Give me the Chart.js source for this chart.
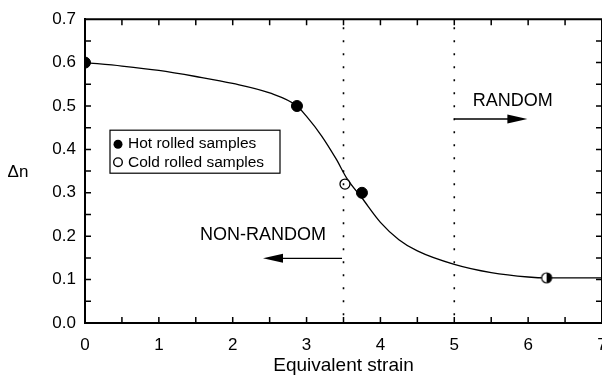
<!DOCTYPE html>
<html>
<head>
<meta charset="utf-8">
<script src="https://cdn.jsdelivr.net/npm/chart.js@4/dist/chart.umd.min.js"></script>
<style>
  html, body { margin: 0; padding: 0; background: #fff; overflow: hidden; }
  #wrap { width: 620px; height: 377px; }
</style>
</head>
<body>
<div id="wrap"><canvas id="strainChart" width="620" height="377"></canvas></div>
<script>
// --- data ---
const hotX = [0, 2.87, 3.75];
const hotY = [0.600, 0.500, 0.300];
const coldX = [3.52];
const coldY = [0.320];
const bothX = [6.25];          // half filled marker (hot + cold)
const bothY = [0.104];

// fitted curve through the samples
const curveX = [0, 0.5, 1.0, 1.5, 2.0, 2.5, 2.87, 3.0, 3.2, 3.4, 3.55, 3.75, 4.0, 4.25, 4.5, 5.0, 5.5, 6.0, 6.25, 6.5, 7.0];
const curveY = [0.600, 0.592, 0.582, 0.568, 0.552, 0.530, 0.500, 0.476, 0.432, 0.378, 0.332, 0.288, 0.232, 0.192, 0.166, 0.135, 0.116, 0.106, 0.104, 0.104, 0.104];

const xTicks = [0, 1, 2, 3, 4, 5, 6, 7];
const yTicks = [0.0, 0.1, 0.2, 0.3, 0.4, 0.5, 0.6, 0.7];
const boundaryX = [3.5, 5.0];   // dotted lines

const FONT = '"Liberation Sans", Arial, Helvetica, sans-serif';

function pts(xs, ys) {
    return xs.map((x, i) => ({ x: x, y: ys[i] }));
}

// half white / half black circle
function halfMarker(r) {
    const c = document.createElement('canvas');
    c.width = c.height = 2 * r + 4;
    const g = c.getContext('2d');
    const m = r + 2;
    g.beginPath(); g.arc(m, m, r, 0, 2 * Math.PI); g.fillStyle = '#fff'; g.fill();
    g.beginPath(); g.arc(m, m, r, -Math.PI / 2, Math.PI / 2); g.closePath(); g.fillStyle = '#000'; g.fill();
    g.beginPath(); g.arc(m, m, r, 0, 2 * Math.PI); g.lineWidth = 1.2; g.strokeStyle = '#000'; g.stroke();
    return c;
}

// --- frame, minor ticks, annotations, legend ---
const decorPlugin = {
    id: 'decor',
    afterDraw(chart) {
        const c = chart.ctx;
        const a = chart.chartArea;
        const xs = chart.scales.x, ys = chart.scales.y;
        c.save();
        c.strokeStyle = '#000';
        c.fillStyle = '#000';

        // top + right frame
        c.lineWidth = 2;
        c.beginPath();
        c.moveTo(a.left, a.top); c.lineTo(a.right, a.top); c.lineTo(a.right, a.bottom);
        c.stroke();

        // inward ticks
        c.lineWidth = 1.5;
        c.beginPath();
        for (let v = 0.5; v < 7; v += 0.5) {
            const px = xs.getPixelForValue(v);
            c.moveTo(px, a.bottom); c.lineTo(px, a.bottom - 6);
            c.moveTo(px, a.top); c.lineTo(px, a.top + 6);
        }
        for (let k = 1; k < 14; k++) {
            const py = ys.getPixelForValue(k * 0.05);
            c.moveTo(a.left, py); c.lineTo(a.left + 6, py);
            c.moveTo(a.right, py); c.lineTo(a.right - 6, py);
        }
        c.stroke();

        // dotted boundaries
        c.lineWidth = 1.6;
        c.setLineDash([2, 11]);
        c.beginPath();
        boundaryX.forEach(v => {
            const px = xs.getPixelForValue(v);
            c.moveTo(px, a.top + 8); c.lineTo(px, a.bottom);
        });
        c.stroke();
        c.setLineDash([]);

        // arrows
        function arrow(x0, x1, y) {
            const p0 = xs.getPixelForValue(x0), p1 = xs.getPixelForValue(x1), py = ys.getPixelForValue(y);
            const dir = Math.sign(p1 - p0);
            c.lineWidth = 1.3;
            c.beginPath(); c.moveTo(p0, py); c.lineTo(p1 - dir * 12, py); c.stroke();
            c.beginPath();
            c.moveTo(p1, py);
            c.lineTo(p1 - dir * 20, py - 4.5);
            c.lineTo(p1 - dir * 20, py + 4.5);
            c.closePath(); c.fill();
        }
        arrow(5.0, 5.99, 0.47);
        arrow(3.48, 2.41, 0.149);

        c.font = '18px ' + FONT;
        c.textAlign = 'center';
        c.textBaseline = 'middle';
        c.fillText('RANDOM', xs.getPixelForValue(5.79), ys.getPixelForValue(0.512));
        c.fillText('NON-RANDOM', xs.getPixelForValue(2.41), ys.getPixelForValue(0.203));

        // y title (horizontal)
        c.font = '17px ' + FONT;
        c.fillText('\u0394n', 18, 172);

        // legend box
        const lx = a.left + 25, ly = a.top + 111, lw = 170, lh = 43;
        c.fillStyle = '#fff';
        c.fillRect(lx, ly, lw, lh);
        c.lineWidth = 1.2;
        c.strokeRect(lx, ly, lw, lh);
        c.fillStyle = '#000';
        c.beginPath(); c.arc(lx + 8, ly + 14, 4.5, 0, 2 * Math.PI); c.fill();
        c.beginPath(); c.arc(lx + 8, ly + 32, 4.3, 0, 2 * Math.PI); c.lineWidth = 1.4; c.stroke();
        c.font = '15.5px ' + FONT;
        c.textAlign = 'left';
        c.fillText('Hot rolled samples', lx + 18, ly + 14);
        c.fillText('Cold rolled samples', lx + 18, ly + 33);

        c.restore();
    }
};

const ctx = document.getElementById('strainChart').getContext('2d');
const strainChart = new Chart(ctx, {
    type: 'line',
    data: {
        datasets: [
            {
                label: 'fit',
                data: pts(curveX, curveY),
                borderColor: '#000',
                borderWidth: 1.3,
                pointRadius: 0,
                cubicInterpolationMode: 'monotone',
                fill: false,
                order: 2
            },
            {
                label: 'Hot rolled samples',
                type: 'scatter',
                data: pts(hotX, hotY),
                pointRadius: 5.5,
                pointBackgroundColor: '#000',
                pointBorderColor: '#000',
                order: 1
            },
            {
                label: 'Cold rolled samples',
                type: 'scatter',
                data: pts(coldX, coldY),
                pointRadius: 5,
                pointBackgroundColor: '#fff',
                pointBorderColor: '#000',
                pointBorderWidth: 1.3,
                order: 1
            },
            {
                label: 'both',
                type: 'scatter',
                data: pts(bothX, bothY),
                pointStyle: halfMarker(5),
                order: 1
            }
        ]
    },
    options: {
        responsive: false,
        animation: false,
        devicePixelRatio: 1,
        layout: { padding: { left: 0, top: 13, right: 18, bottom: 0 } },
        plugins: {
            legend: { display: false },
            tooltip: { enabled: false }
        },
        scales: {
            x: {
                type: 'linear',
                min: 0,
                max: 7,
                afterBuildTicks: s => { s.ticks = xTicks.map(v => ({ value: v })); },
                afterFit: s => { s.height = 54; },
                grid: { display: false, drawTicks: false },
                border: { display: true, color: '#000', width: 2 },
                ticks: { color: '#000', font: { family: FONT, size: 17 }, padding: 12, autoSkip: false, maxRotation: 0 },
                title: { display: true, text: 'Equivalent strain', color: '#000', font: { family: FONT, size: 19 }, padding: { top: 0, bottom: 0 } }
            },
            y: {
                type: 'linear',
                min: 0,
                max: 0.7,
                afterBuildTicks: s => { s.ticks = yTicks.map(v => ({ value: v })); },
                afterFit: s => { s.width = 85; },
                grid: { display: false, drawTicks: false },
                border: { display: true, color: '#000', width: 2 },
                ticks: { color: '#000', font: { family: FONT, size: 17 }, padding: 9, callback: v => v.toFixed(1) }
            }
        }
    },
    plugins: [decorPlugin]
});
</script>
</body>
</html>
